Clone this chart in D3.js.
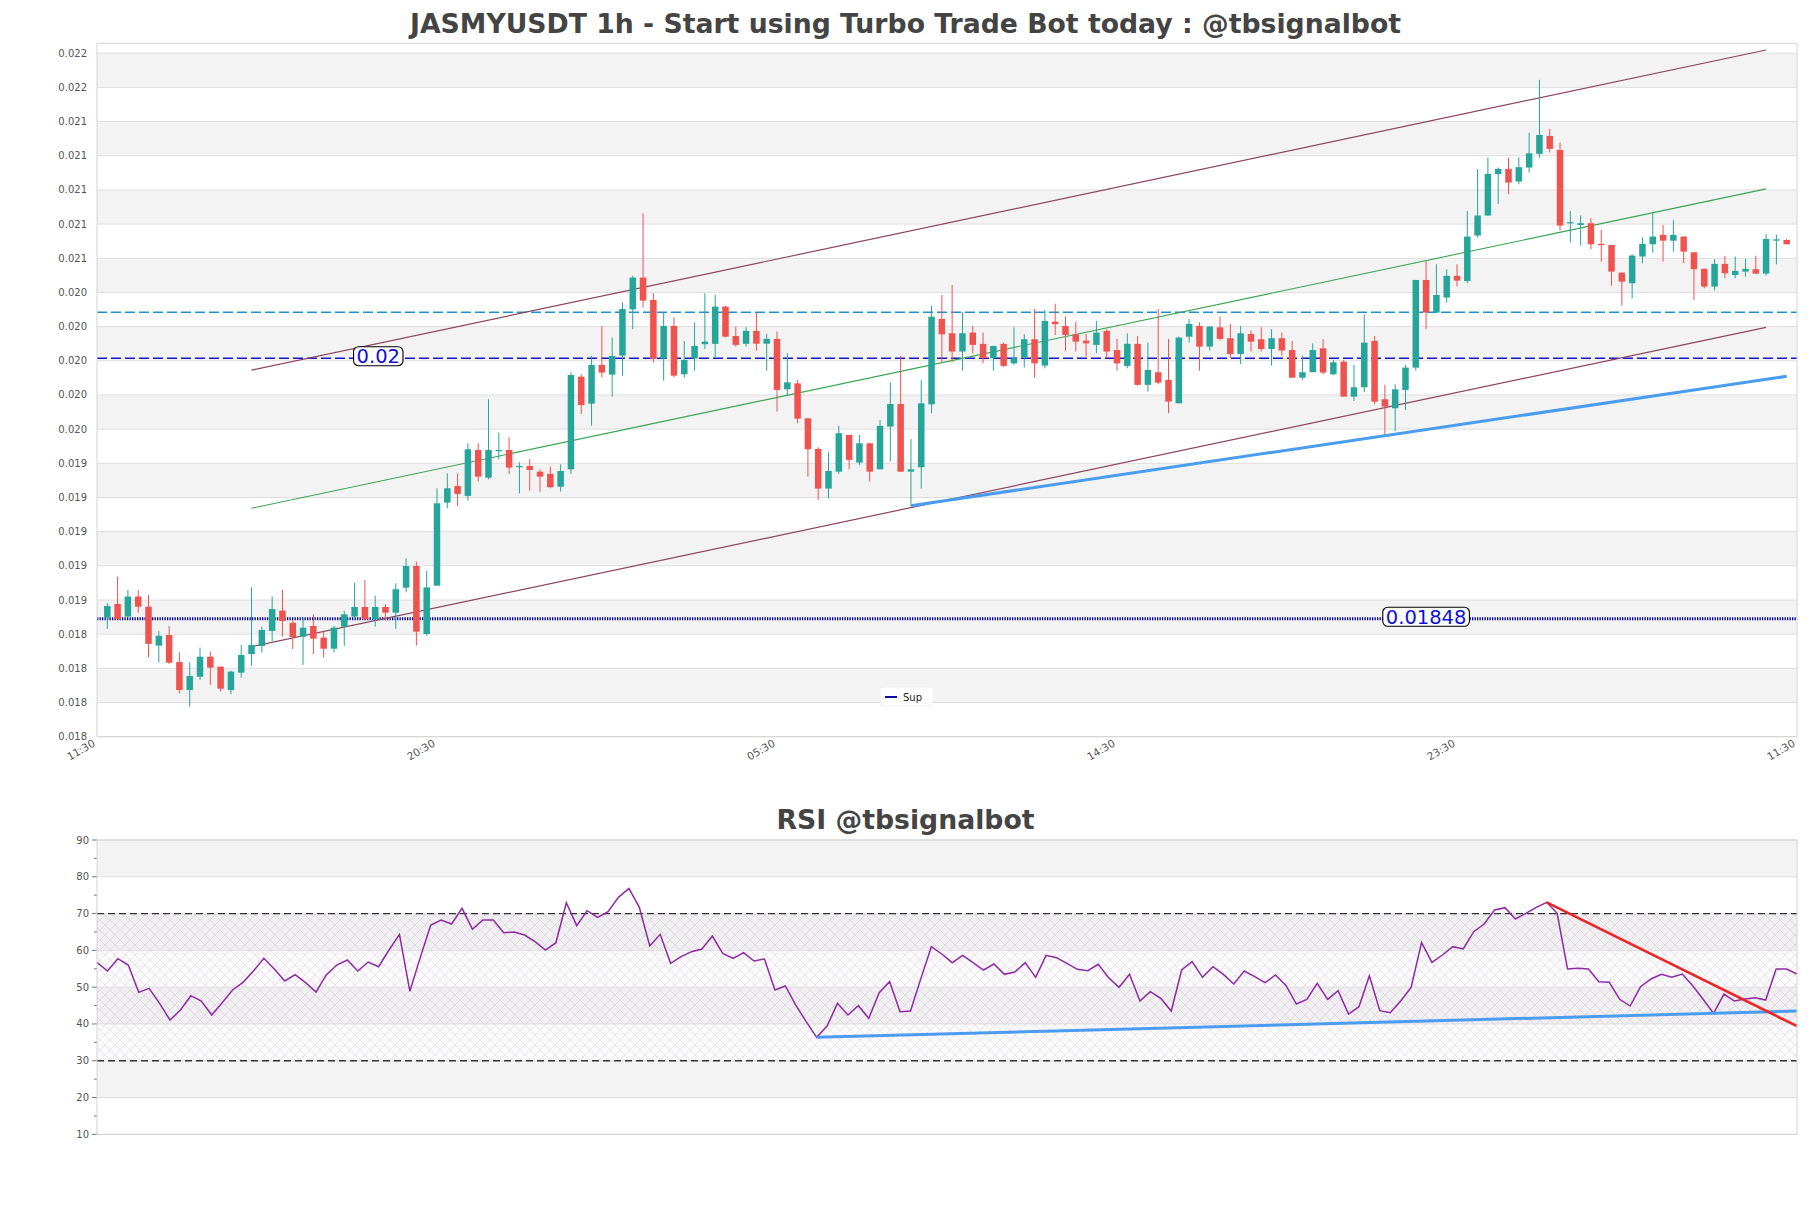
<!DOCTYPE html>
<html>
<head>
<meta charset="utf-8">
<script src="https://cdn.jsdelivr.net/npm/d3@7"></script>
<style>
body { margin: 0; background: #fff; }
text { font-family: "DejaVu Sans", sans-serif; }
</style>
</head>
<body>
<div id="chart"></div>
<script>
var width = 1811, height = 1208;

// hourly candles, oldest first
var timeLabels = ["11:30", "20:30", "05:30", "14:30", "23:30", "11:30"];

var opens = [
0.018497,0.018577,0.018503,0.018620,0.018561,0.018333,0.018395,0.018237,0.018073,0.018151,
0.018268,0.018210,0.018073,0.018175,0.018284,0.018331,0.018419,0.018538,0.018467,0.018385,
0.018448,0.018380,0.018315,0.018444,0.018503,0.018559,0.018487,0.018559,0.018526,0.018672,
0.018799,0.018401,0.018684,0.019170,0.019267,0.019209,0.019478,0.019316,0.019474,0.019478,
0.019381,0.019384,0.019351,0.019338,0.019263,0.019365,0.019907,0.019749,0.019976,0.019919,
0.020030,0.020301,0.020487,0.020356,0.020013,0.020204,0.019921,0.020013,0.020097,0.020099,
0.020317,0.020145,0.020099,0.020175,0.020100,0.020128,0.019833,0.019868,0.019663,0.019484,
0.019252,0.019351,0.019566,0.019404,0.019517,0.019365,0.019615,0.019747,0.019351,0.019377,
0.019745,0.020245,0.020161,0.020054,0.020165,0.020099,0.020015,0.020099,0.019985,0.020020,
0.020126,0.019972,0.020229,0.020204,0.020155,0.020118,0.020093,0.020175,0.020063,0.019970,
0.020099,0.019859,0.019933,0.019888,0.019751,0.020141,0.020204,0.020083,0.020196,0.020132,
0.020040,0.020157,0.020126,0.020069,0.020132,0.020063,0.019901,0.019933,0.020073,0.019921,
0.019995,0.019790,0.019845,0.020116,0.019775,0.019722,0.019829,0.019960,0.020473,0.020282,
0.020370,0.020497,0.020467,0.020733,0.020850,0.021092,0.021123,0.021049,0.021131,0.021211,
0.021316,0.021234,0.020805,0.020795,0.020805,0.020684,0.020678,0.020516,0.020454,0.020610,
0.020682,0.020737,0.020703,0.020727,0.020635,0.020538,0.020434,0.020567,0.020502,0.020522,
0.020536,0.020510,0.020703,0.020707];

var highs = [
0.018581,0.018737,0.018659,0.018659,0.018629,0.018419,0.018448,0.018294,0.018235,0.018321,
0.018298,0.018210,0.018186,0.018337,0.018674,0.018444,0.018620,0.018659,0.018483,0.018493,
0.018516,0.018415,0.018448,0.018536,0.018702,0.018717,0.018625,0.018575,0.018698,0.018844,
0.018824,0.018772,0.019254,0.019341,0.019341,0.019517,0.019517,0.019775,0.019580,0.019552,
0.019406,0.019425,0.019365,0.019381,0.019394,0.019933,0.019921,0.020028,0.020204,0.020136,
0.020342,0.020498,0.020863,0.020395,0.020282,0.020255,0.020116,0.020225,0.020395,0.020385,
0.020321,0.020200,0.020196,0.020284,0.020157,0.020171,0.020044,0.019888,0.019663,0.019494,
0.019464,0.019619,0.019566,0.019566,0.019521,0.019654,0.019874,0.020028,0.019542,0.019888,
0.020323,0.020385,0.020444,0.020284,0.020204,0.020165,0.020087,0.020106,0.020196,0.020155,
0.020303,0.020298,0.020333,0.020259,0.020229,0.020157,0.020233,0.020184,0.020128,0.020161,
0.020145,0.020106,0.020303,0.020128,0.020141,0.020245,0.020225,0.020204,0.020259,0.020216,
0.020204,0.020177,0.020196,0.020184,0.020165,0.020116,0.020030,0.020102,0.020128,0.020005,
0.020005,0.019976,0.020272,0.020145,0.019859,0.019862,0.019976,0.020473,0.020584,0.020565,
0.020536,0.020565,0.020877,0.021123,0.021189,0.021131,0.021189,0.021191,0.021335,0.021644,
0.021357,0.021277,0.020877,0.020850,0.020834,0.020766,0.020678,0.020516,0.020623,0.020723,
0.020863,0.020795,0.020824,0.020727,0.020635,0.020541,0.020594,0.020614,0.020610,0.020596,
0.020614,0.020742,0.020737,0.020713];

var lows = [
0.018430,0.018489,0.018503,0.018526,0.018265,0.018235,0.018226,0.018054,0.017976,0.018132,
0.018103,0.018064,0.018050,0.018146,0.018216,0.018292,0.018360,0.018385,0.018313,0.018220,
0.018284,0.018263,0.018294,0.018331,0.018493,0.018487,0.018444,0.018479,0.018430,0.018645,
0.018333,0.018391,0.018684,0.019137,0.019150,0.019181,0.019293,0.019306,0.019423,0.019336,
0.019224,0.019240,0.019234,0.019254,0.019234,0.019338,0.019689,0.019621,0.019903,0.019790,
0.019913,0.020184,0.020311,0.019989,0.019884,0.019903,0.019901,0.019942,0.020069,0.020015,
0.020138,0.020083,0.020083,0.020059,0.019942,0.019702,0.019794,0.019634,0.019322,0.019185,
0.019195,0.019338,0.019365,0.019390,0.019293,0.019365,0.019410,0.019351,0.019152,0.019252,
0.019693,0.019991,0.019991,0.019942,0.020044,0.019985,0.019942,0.019962,0.019976,0.019960,
0.019901,0.019956,0.020151,0.020058,0.020054,0.020024,0.020044,0.020015,0.019942,0.019956,
0.019855,0.019820,0.019862,0.019693,0.019751,0.020106,0.019942,0.020060,0.020118,0.020015,
0.019981,0.020054,0.020054,0.019972,0.020030,0.019901,0.019888,0.019933,0.019921,0.019917,
0.019790,0.019765,0.019816,0.019745,0.019566,0.019589,0.019712,0.019942,0.020184,0.020282,
0.020340,0.020434,0.020454,0.020721,0.020850,0.020918,0.020975,0.021033,0.021101,0.021189,
0.021220,0.020762,0.020692,0.020674,0.020653,0.020580,0.020440,0.020323,0.020366,0.020571,
0.020633,0.020580,0.020639,0.020571,0.020356,0.020424,0.020411,0.020483,0.020483,0.020493,
0.020508,0.020498,0.020565,0.020682];

var closes = [
0.018565,0.018489,0.018620,0.018561,0.018343,0.018391,0.018233,0.018073,0.018155,0.018268,
0.018204,0.018081,0.018181,0.018278,0.018337,0.018425,0.018547,0.018477,0.018383,0.018438,
0.018374,0.018315,0.018438,0.018516,0.018559,0.018487,0.018559,0.018526,0.018663,0.018799,
0.018415,0.018674,0.019166,0.019254,0.019221,0.019482,0.019322,0.019478,0.019478,0.019375,
0.019384,0.019361,0.019322,0.019260,0.019355,0.019917,0.019741,0.019976,0.019931,0.020028,
0.020303,0.020487,0.020352,0.020011,0.020204,0.019913,0.020005,0.020087,0.020112,0.020317,
0.020141,0.020093,0.020175,0.020100,0.020128,0.019829,0.019874,0.019661,0.019482,0.019252,
0.019355,0.019576,0.019420,0.019517,0.019351,0.019619,0.019747,0.019351,0.019365,0.019751,
0.020258,0.020155,0.020054,0.020161,0.020093,0.020015,0.020087,0.019970,0.020015,0.020126,
0.019985,0.020233,0.020214,0.020151,0.020112,0.020102,0.020165,0.020054,0.019985,0.020099,
0.019859,0.019946,0.019872,0.019761,0.020136,0.020216,0.020083,0.020200,0.020128,0.020040,
0.020161,0.020112,0.020069,0.020132,0.020060,0.019901,0.019933,0.020063,0.019931,0.019991,
0.019790,0.019845,0.020106,0.019761,0.019732,0.019833,0.019960,0.020473,0.020282,0.020385,
0.020497,0.020469,0.020727,0.020850,0.021094,0.021123,0.021043,0.021133,0.021214,0.021322,
0.021240,0.020791,0.020811,0.020805,0.020682,0.020678,0.020522,0.020463,0.020616,0.020684,
0.020727,0.020703,0.020737,0.020639,0.020536,0.020434,0.020567,0.020512,0.020526,0.020538,
0.020510,0.020713,0.020711,0.020682];

var rsiValues = [
56.74,54.39,57.74,56.02,48.59,49.68,45.60,41.07,43.79,47.68,
46.23,42.43,45.78,49.22,51.31,54.39,57.83,54.93,51.67,53.39,
51.22,48.68,53.39,56.02,57.38,54.39,56.83,55.56,60.10,64.35,
48.86,58.10,66.89,68.25,67.16,71.42,65.71,68.25,68.25,64.81,
64.99,64.17,62.36,60.10,62.09,72.96,66.71,70.79,68.98,70.52,
74.41,76.86,71.69,61.18,64.35,56.47,58.28,59.64,60.37,63.90,
59.19,57.83,59.37,57.11,57.65,49.22,50.31,45.14,40.61,36.36,
39.44,45.60,42.43,44.96,41.52,48.50,51.49,43.33,43.51,52.39,
61.00,59.01,56.65,58.65,56.65,54.66,56.29,53.48,54.12,56.65,
52.67,58.65,58.01,56.47,54.84,54.48,56.20,52.57,49.95,53.48,
46.23,48.77,46.96,43.51,54.66,56.92,52.67,55.56,53.48,50.85,
54.39,52.85,51.22,53.30,50.49,45.42,46.69,51.03,46.69,49.04,
42.70,44.69,53.12,43.60,43.06,46.23,49.95,62.09,56.74,58.74,
61.00,60.37,65.08,67.16,70.97,71.60,68.52,70.06,71.69,73.05,
70.06,54.93,55.11,54.93,51.49,51.31,46.69,44.87,50.13,52.21,
53.48,52.67,53.57,50.40,46.69,42.88,48.13,46.23,46.78,47.14,
46.50,54.93,54.93,53.57];

var priceTicks = d3.range(21).map(function(i){ return 0.0178 + i * 0.0002; });
var rsiTicks = [10, 20, 30, 40, 50, 60, 70, 80, 90];

// horizontal levels
var resistLevel = 0.020284;
var levelValues = [0.020015, 0.01849];
var levelTexts = ["0.02", "0.01848"];
var legendNames = ["Sup"];

// channel + trend lines as [candle index, price]
var channelUpper = [[14, 0.019945], [161, 0.021819]];
var channelMid = [[14, 0.019137], [161, 0.021006]];
var channelLower = [[14, 0.018327], [161, 0.020196]];
var supportTrend = [[78, 0.019152], [163, 0.019909]];

// rsi trend lines as [point index, rsi]
var rsiSupport = [[69, 36.36], [163, 43.5]];
var rsiResist = [[139, 73.05], [163, 39.4]];

var candles = opens.map(function(o, i){
    return { i: i, o: o, h: highs[i], l: lows[i], c: closes[i] };
});

var svg = d3.select("#chart").append("svg")
    .attr("width", width).attr("height", height)
    .style("display", "block");

svg.append("rect").attr("width", width).attr("height", height).attr("fill", "#fff");

var defs = svg.append("defs");
var pat = defs.append("pattern").attr("id", "xhatch")
    .attr("patternUnits", "userSpaceOnUse").attr("width", 10).attr("height", 10);
pat.append("path").attr("d", "M0,0L10,10M10,0L0,10")
    .attr("stroke", "rgba(175,125,190,0.3)").attr("stroke-width", 0.7);

// ---------------- main price panel ----------------
var left = 97, right = 1797, top1 = 43.3, bottom1 = 736.7;

var x = d3.scaleLinear().domain([-1, candles.length]).range([left, right]);
var y = d3.scaleLinear().domain([0.0178, 0.021858]).range([bottom1, top1]);

svg.append("text")
    .attr("x", width / 2).attr("y", 32.5)
    .attr("text-anchor", "middle")
    .attr("font-size", 26.7).attr("font-weight", "bold").attr("fill", "#444")
    .text("JASMYUSDT 1h - Start using Turbo Trade Bot today : @tbsignalbot");

var main = svg.append("g");

// striped bands between ticks
main.selectAll("rect.band")
    .data(d3.range(priceTicks.length - 1).filter(function(k){ return k % 2 == 1; }))
    .enter().append("rect").attr("class", "band")
    .attr("x", left).attr("width", right - left)
    .attr("y", function(k){ return y(priceTicks[k + 1]); })
    .attr("height", function(k){ return y(priceTicks[k]) - y(priceTicks[k + 1]); })
    .attr("fill", "#f3f3f3");

main.selectAll("line.grid")
    .data(priceTicks)
    .enter().append("line").attr("class", "grid")
    .attr("x1", left).attr("x2", right)
    .attr("y1", function(d){ return y(d); }).attr("y2", function(d){ return y(d); })
    .attr("stroke", "#dedede").attr("stroke-width", 1);

main.selectAll("text.ylab")
    .data(priceTicks)
    .enter().append("text").attr("class", "ylab")
    .attr("x", left - 10).attr("y", function(d){ return y(d); })
    .attr("dy", "0.35em").attr("text-anchor", "end")
    .attr("font-size", 10).attr("fill", "#555")
    .text(d3.format(".3f"));

var xTickPos = d3.range(timeLabels.length).map(function(i){
    return -1 + i * (candles.length + 1) / (timeLabels.length - 1);
});

main.selectAll("text.xlab")
    .data(timeLabels)
    .enter().append("text").attr("class", "xlab")
    .attr("transform", function(d, i){ return "translate(" + (x(xTickPos[i]) - 5) + "," + (bottom1 + 2) + ") rotate(-30)"; })
    .attr("text-anchor", "end").attr("dy", "0.75em")
    .attr("font-size", 10.5).attr("fill", "#555")
    .text(function(d){ return d; });

// horizontal levels
main.append("line")
    .attr("x1", left).attr("x2", right)
    .attr("y1", y(resistLevel)).attr("y2", y(resistLevel))
    .attr("stroke", "#1b8fd2").attr("stroke-width", 1.3).attr("stroke-dasharray", "10,4");

main.append("line")
    .attr("x1", left).attr("x2", right)
    .attr("y1", y(levelValues[0])).attr("y2", y(levelValues[0]))
    .attr("stroke", "#1414c8").attr("stroke-width", 1.4).attr("stroke-dasharray", "10,4");

main.append("line")
    .attr("x1", left).attr("x2", right)
    .attr("y1", y(levelValues[1])).attr("y2", y(levelValues[1]))
    .attr("stroke", "#00009a").attr("stroke-width", 3).attr("stroke-dasharray", "1.3,1.2");

// channel lines
var line = d3.line()
    .x(function(d){ return x(d[0]); })
    .y(function(d){ return y(d[1]); });

main.append("path").datum(channelUpper).attr("d", line)
    .attr("fill", "none").attr("stroke", "#8c4560").attr("stroke-width", 1.2);
main.append("path").datum(channelLower).attr("d", line)
    .attr("fill", "none").attr("stroke", "#8c4560").attr("stroke-width", 1.2);
main.append("path").datum(channelMid).attr("d", line)
    .attr("fill", "none").attr("stroke", "#3aa454").attr("stroke-width", 1.1);

// candles
var bodyW = 6.5;
var cg = main.selectAll("g.candle")
    .data(candles)
    .enter().append("g").attr("class", "candle");

cg.append("line")
    .attr("x1", function(d){ return x(d.i); }).attr("x2", function(d){ return x(d.i); })
    .attr("y1", function(d){ return y(d.h); }).attr("y2", function(d){ return y(d.l); })
    .attr("stroke", function(d){ return d.c >= d.o ? "#26a69a" : "#ef5350"; })
    .attr("stroke-width", 1);

cg.append("rect")
    .attr("x", function(d){ return x(d.i) - bodyW / 2; })
    .attr("width", bodyW)
    .attr("y", function(d){ return y(Math.max(d.o, d.c)); })
    .attr("height", function(d){ return Math.max(1.2, Math.abs(y(d.o) - y(d.c))); })
    .attr("fill", function(d){ return d.c >= d.o ? "#26a69a" : "#ef5350"; });

main.append("path").datum(supportTrend).attr("d", line)
    .attr("fill", "none").attr("stroke", "#4a9cf0").attr("stroke-width", 3);

// level labels
var labelAt = [26.3, 128];
levelValues.forEach(function(v, k){
    var g = main.append("g").attr("transform", "translate(" + x(labelAt[k]) + "," + (y(v) - 2) + ")");
    var t = g.append("text").attr("text-anchor", "middle").attr("dy", "0.36em")
        .attr("font-size", 19.5).attr("fill", "#1010d8").text(levelTexts[k]);
    var w = t.node().getComputedTextLength();
    g.insert("rect", "text")
        .attr("x", -w / 2 - 3).attr("y", -9.5).attr("width", w + 6).attr("height", 19)
        .attr("rx", 5).attr("fill", "#fff").attr("stroke", "#000").attr("stroke-width", 1.1);
});

// legend
var lg = main.append("g").attr("transform", "translate(880,687)");
lg.append("rect").attr("width", 53).attr("height", 19).attr("rx", 3)
    .attr("fill", "#fff").attr("stroke", "#f0f0f0");
lg.append("line").attr("x1", 5).attr("x2", 17).attr("y1", 10).attr("y2", 10)
    .attr("stroke", "#0a0aa8").attr("stroke-width", 2);
lg.append("text").attr("x", 23).attr("y", 10).attr("dy", "0.35em")
    .attr("font-size", 10).attr("fill", "#222").text(legendNames[0]);

main.append("rect")
    .attr("x", left).attr("y", top1).attr("width", right - left).attr("height", bottom1 - top1)
    .attr("fill", "none").attr("stroke", "#d4d4d4").attr("stroke-width", 1);

// ---------------- RSI panel ----------------
var top2 = 840, bottom2 = 1134.3;
var x2 = d3.scaleLinear().domain([0, rsiValues.length - 1]).range([left, right]);
var y2 = d3.scaleLinear().domain([10, 90]).range([bottom2, top2]);

svg.append("text")
    .attr("x", width / 2).attr("y", 829)
    .attr("text-anchor", "middle")
    .attr("font-size", 26.7).attr("font-weight", "bold").attr("fill", "#444")
    .text("RSI @tbsignalbot");

var rsi = svg.append("g");

rsi.selectAll("rect.band")
    .data([20, 40, 60, 80])
    .enter().append("rect").attr("class", "band")
    .attr("x", left).attr("width", right - left)
    .attr("y", function(d){ return y2(d + 10); })
    .attr("height", function(d){ return y2(d) - y2(d + 10); })
    .attr("fill", "#f3f3f3");

rsi.append("rect")
    .attr("x", left).attr("width", right - left)
    .attr("y", y2(70)).attr("height", y2(30) - y2(70))
    .attr("fill", "rgba(150,90,170,0.02)");
rsi.append("rect")
    .attr("x", left).attr("width", right - left)
    .attr("y", y2(70)).attr("height", y2(30) - y2(70))
    .attr("fill", "url(#xhatch)");

rsi.selectAll("line.grid")
    .data(rsiTicks)
    .enter().append("line").attr("class", "grid")
    .attr("x1", left).attr("x2", right)
    .attr("y1", function(d){ return y2(d); }).attr("y2", function(d){ return y2(d); })
    .attr("stroke", "#dedede");

rsi.selectAll("line.tick")
    .data(d3.range(10, 91, 5))
    .enter().append("line").attr("class", "tick")
    .attr("x1", function(d){ return d % 10 == 0 ? left - 5 : left - 3; }).attr("x2", left)
    .attr("y1", function(d){ return y2(d); }).attr("y2", function(d){ return y2(d); })
    .attr("stroke", "#777");

rsi.selectAll("text.ylab")
    .data(rsiTicks)
    .enter().append("text").attr("class", "ylab")
    .attr("x", left - 8).attr("y", function(d){ return y2(d); })
    .attr("dy", "0.35em").attr("text-anchor", "end")
    .attr("font-size", 10).attr("fill", "#555")
    .text(function(d){ return d; });

[30, 70].forEach(function(v){
    rsi.append("line")
        .attr("x1", left).attr("x2", right)
        .attr("y1", y2(v)).attr("y2", y2(v))
        .attr("stroke", "#333").attr("stroke-width", 1.3).attr("stroke-dasharray", "7,4");
});

rsi.append("path").datum(rsiValues)
    .attr("d", d3.line().x(function(d, i){ return x2(i); }).y(function(d){ return y2(d); }))
    .attr("fill", "none").attr("stroke", "#8e2aa2").attr("stroke-width", 1.5);

var rline = d3.line()
    .x(function(d){ return x2(d[0]); })
    .y(function(d){ return y2(d[1]); });

rsi.append("path").datum(rsiSupport).attr("d", rline)
    .attr("fill", "none").attr("stroke", "#4a9cf0").attr("stroke-width", 3);
rsi.append("path").datum(rsiResist).attr("d", rline)
    .attr("fill", "none").attr("stroke", "#ee2424").attr("stroke-width", 2.5);

rsi.append("rect")
    .attr("x", left).attr("y", top2).attr("width", right - left).attr("height", bottom2 - top2)
    .attr("fill", "none").attr("stroke", "#d4d4d4").attr("stroke-width", 1);
</script>
</body>
</html>
